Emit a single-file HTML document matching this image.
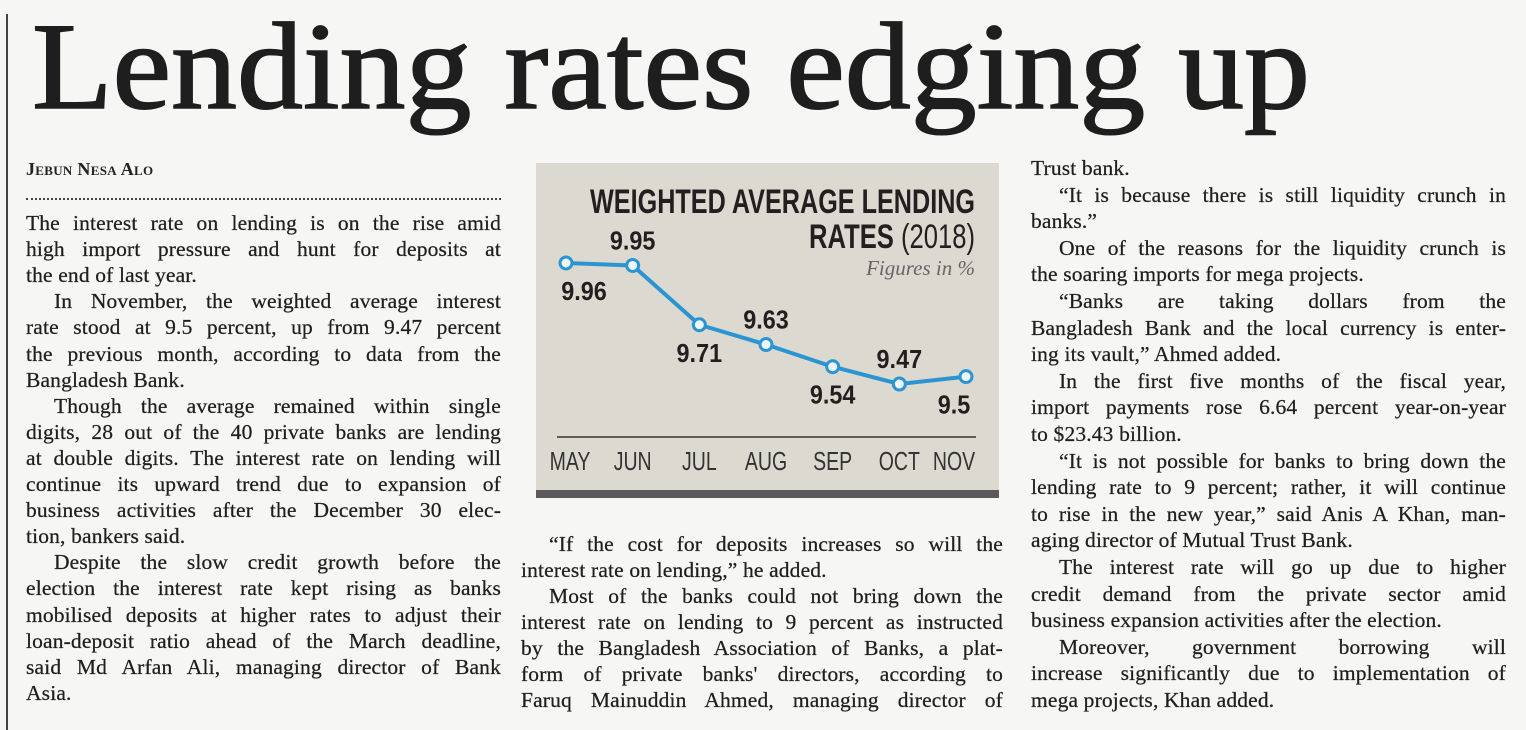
<!DOCTYPE html>
<html><head><meta charset="utf-8">
<style>
html,body{margin:0;padding:0;}
body{width:1526px;height:730px;background:#f6f6f4;position:relative;overflow:hidden;font-family:"Liberation Serif",serif;color:#1f1f1f;}
.ln{position:absolute;height:26px;line-height:26px;font-size:21.5px;letter-spacing:0.15px;white-space:nowrap;text-align:justify;text-align-last:justify;-webkit-text-stroke:0.25px #1f1f1f;}
.ln.last{text-align-last:left;}
#chart{position:absolute;left:0;top:0;}
</style></head>
<body>
<div style="position:absolute;left:6px;top:14px;width:2px;height:716px;background:#444;"></div>
<svg width="1526" height="140" style="position:absolute;left:0;top:0">
<text x="32" y="108" font-family="Liberation Serif, serif" font-size="124" fill="#1e1e1e" stroke="#1e1e1e" stroke-width="1.6" textLength="1278" lengthAdjust="spacingAndGlyphs">Lending rates edging up</text>
</svg>
<div style="position:absolute;left:26px;top:159px;font-size:18px;font-weight:bold;font-variant:small-caps;letter-spacing:0.3px;color:#222;">Jebun Nesa Alo</div>
<div style="position:absolute;left:26px;top:198px;width:475px;border-top:2px dotted #444;"></div>

<svg id="chart" width="1526" height="730"></svg>

<div id="cols"></div>

<script>
const months = ["MAY","JUN","JUL","AUG","SEP","OCT","NOV"];
const rates = [9.96, 9.95, 9.71, 9.63, 9.54, 9.47, 9.5];
const valueLabels = ["9.96","9.95","9.71","9.63","9.54","9.47","9.5"];
const labelSide = ["below","above","below","above","below","above","below"];

const NS="http://www.w3.org/2000/svg";
const svg=document.getElementById('chart');
function mk(tag,attrs,parent){const e=document.createElementNS(NS,tag);for(const k in attrs)e.setAttribute(k,attrs[k]);(parent||svg).appendChild(e);return e;}
function condense(t,f){const w=t.getComputedTextLength();t.setAttribute('textLength',w*f);t.setAttribute('lengthAdjust','spacingAndGlyphs');}
const x0=566,x1=966;
function xs(i){return x0+(x1-x0)*i/(months.length-1);}
function ys(v){return 263+(9.96-v)*247;}

const bg=mk('rect',{x:536,y:163,width:463,height:328,fill:'#dcd9d0'});


const bar=mk('rect',{x:536,y:490,width:463,height:8,fill:'#5a5a5a'});


const t1=mk('text',{x:975,y:213,'text-anchor':'end','font-family':'Liberation Sans, sans-serif','font-size':34,'font-weight':'bold',fill:'#231f20',textLength:385,lengthAdjust:'spacingAndGlyphs'});
t1.textContent='WEIGHTED AVERAGE LENDING';


const t2=mk('text',{x:975,y:248,'text-anchor':'end','font-family':'Liberation Sans, sans-serif','font-size':34,fill:'#231f20',textLength:166,lengthAdjust:'spacingAndGlyphs'});
t2.innerHTML='<tspan font-weight="bold">RATES</tspan> (2018)';


const t3=mk('text',{x:975,y:275,'text-anchor':'end','font-family':'Liberation Serif, serif','font-size':21,'font-style':'italic',fill:'#666'});
t3.textContent='Figures in %';


const ax=mk('line',{x1:557,y1:437,x2:976,y2:437,stroke:'#333','stroke-width':1.5});



let d='';
rates.forEach((v,i)=>{d+=(i?'L':'M')+xs(i)+' '+ys(v);});
const line=mk('path',{d:d,fill:'none',stroke:'#2b95d3','stroke-width':4,'stroke-linejoin':'round'});


rates.forEach((v,i)=>{
  const c=mk('circle',{cx:xs(i),cy:ys(v),r:6,fill:'#eef6fb',stroke:'#2b95d3','stroke-width':3});
  
  
  const above=labelSide[i]==='above';
  let lx=xs(i); if(i===0) lx+=18; if(i===months.length-1) lx-=12;
  const lb=mk('text',{x:lx,y:ys(v)+(above?-16:37),'text-anchor':'middle','font-family':'Liberation Sans, sans-serif','font-size':26,'font-weight':'bold',fill:'#231f20'});
  lb.textContent=valueLabels[i];
  
  
  condense(lb,0.9);
  let mx=xs(i); if(i===0) mx+=4; if(i===months.length-1) mx-=12;
  const m=mk('text',{x:mx,y:470,'text-anchor':'middle','font-family':'Liberation Sans, sans-serif','font-size':26,fill:'#333'});
  m.textContent=months[i];
  
  
  condense(m,0.75);
});

const col1=[
"The interest rate on lending is on the rise amid",
"high import pressure and hunt for deposits at",
"the end of last year.|",
">In November, the weighted average interest",
"rate stood at 9.5 percent, up from 9.47 percent",
"the previous month, according to data from the",
"Bangladesh Bank.|",
">Though the average remained within single",
"digits, 28 out of the 40 private banks are lending",
"at double digits. The interest rate on lending will",
"continue its upward trend due to expansion of",
"business activities after the December 30 elec-",
"tion, bankers said.|",
">Despite the slow credit growth before the",
"election the interest rate kept rising as banks",
"mobilised deposits at higher rates to adjust their",
"loan-deposit ratio ahead of the March deadline,",
"said Md Arfan Ali, managing director of Bank",
"Asia.|"];
const col2=[
">\u201CIf the cost for deposits increases so will the",
"interest rate on lending,\u201D he added.|",
">Most of the banks could not bring down the",
"interest rate on lending to 9 percent as instructed",
"by the Bangladesh Association of Banks, a plat-",
"form of private banks' directors, according to",
"Faruq Mainuddin Ahmed, managing director of"];
const col3=[
"Trust bank.|",
">\u201CIt is because there is still liquidity crunch in",
"banks.\u201D|",
">One of the reasons for the liquidity crunch is",
"the soaring imports for mega projects.|",
">\u201CBanks are taking dollars from the",
"Bangladesh Bank and the local currency is enter-",
"ing its vault,\u201D Ahmed added.|",
">In the first five months of the fiscal year,",
"import payments rose 6.64 percent year-on-year",
"to $23.43 billion.|",
">\u201CIt is not possible for banks to bring down the",
"lending rate to 9 percent; rather, it will continue",
"to rise in the new year,\u201D said Anis A Khan, man-",
"aging director of Mutual Trust Bank.|",
">The interest rate will go up due to higher",
"credit demand from the private sector amid",
"business expansion activities after the election.|",
">Moreover, government borrowing will",
"increase significantly due to implementation of",
"mega projects, Khan added.|"];
const holder=document.getElementById('cols');
function place(lines,left,width,base,pitch,name){
  lines.forEach((s,i)=>{
    const el=document.createElement('div');
    el.className='ln';
    let ind=0;
    if(s[0]==='>'){ind=28;s=s.slice(1);}
    if(s.endsWith('|')){el.classList.add('last');s=s.slice(0,-1);}
    el.textContent=s;
    el.style.left=(left+ind)+'px';
    el.style.width=(width-ind)+'px';
    el.style.top=(base+i*pitch-20)+'px';
    
    
    holder.appendChild(el);
    if(el.scrollWidth>el.clientWidth+1){
      el.style.letterSpacing='0px';
      if(el.scrollWidth>el.clientWidth+1){
        const f=el.clientWidth/el.scrollWidth;
        el.style.fontSize=(21.5*f)+'px';
      }
    }
  });
}
place(col1,26,475,230,26.1,'column1');
place(col2,521,482,551,26.0,'column2');
place(col3,1031,475,175,26.6,'column3');
</script>
</body></html>
